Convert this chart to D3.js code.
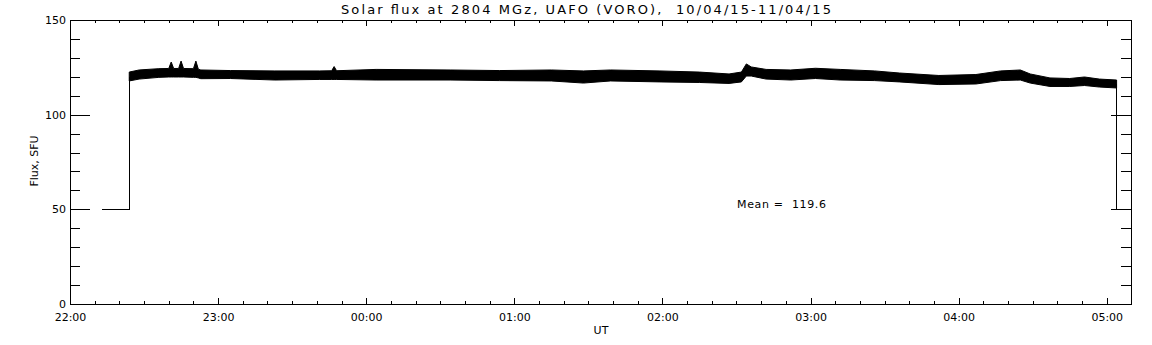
<!DOCTYPE html>
<meta charset="UTF-8">
<script src="https://d3js.org/d3.v7.min.js"></script>
<style>
body { margin: 0; background: #fff; }
text { font-family: "DejaVu Sans", sans-serif; fill: #000; }
</style>
<div id="chart"></div>
<script>

// band of the flux record: sample time (UT), upper and lower edge in SFU
var times = ["22:24","22:28","22:36","22:40","22:41","22:42","22:44","22:45","22:46","22:50","22:51","22:52","22:53",
             "23:05","23:23","23:41","23:46","23:47","23:48","00:04","00:34","00:54","01:15","01:28","01:39","01:59",
             "02:15","02:27","02:32","02:34","02:36","02:42","02:52","03:02","03:12","03:26","03:36","03:52",
             "04:07","04:17","04:25","04:29","04:37","04:45","04:51","04:57","05:04"]
var upper = [122.5,123.6,124.3,124.4,127.8,124.4,124.4,128.3,124.4,124.3,128.3,124.0,123.6,
             123.3,123.1,123.1,123.2,125.4,123.2,123.9,123.6,123.3,123.6,123.1,123.6,123.1,
             122.5,121.5,122.5,126.8,125.2,123.9,123.6,124.5,123.9,123.1,122.0,120.7,
             121.2,123.1,123.6,121.5,119.4,119.1,119.9,118.8,118.3]
var lower = [117.8,118.8,119.7,119.9,119.9,119.9,119.9,119.9,119.9,119.7,119.7,119.4,119.0,
             119.1,118.3,118.6,118.6,118.6,118.6,118.3,118.3,118.0,117.8,116.7,117.8,117.3,
             117.0,116.5,117.3,120.4,120.4,118.8,118.3,119.1,118.3,118.0,117.3,115.9,
             116.2,118.0,118.3,116.7,114.9,114.9,115.4,114.6,114.1]

// level before the record starts and after it stops
var leadTimes = ["22:13","22:24","22:24"]
var leadFlux = [50, 50, 120]
var tailTimes = ["05:04","05:04","05:05"]
var tailFlux = [116, 50, 50]

var yTicks = [0, 50, 100, 150]
var xTickLabels = ["22:00","23:00","00:00","01:00","02:00","03:00","04:00","05:00"]
var meanFlux = 119.6

var width = 1152, height = 345
var pLeft = 70, pRight = 1131, pTop = 20, pBottom = 304

function toDate(s) {
    var p = s.split(":").map(Number)
    var day = p[0] >= 12 ? 10 : 11
    return new Date(Date.UTC(2015, 3, day, p[0], p[1], p[2] || 0))
}

var svg = d3.select("#chart").append("svg")
    .attr("width", width)
    .attr("height", height)

var x = d3.scaleUtc()
    .domain([toDate("22:00"), toDate("05:09:50")])
    .range([pLeft, pRight])
var y = d3.scaleLinear()
    .domain([0, 150])
    .range([pBottom, pTop])

var plotH = pBottom - pTop, plotW = pRight - pLeft
var fmt = d3.utcFormat("%H:%M")

// x axes, ticks point inside like IDL
var hours = xTickLabels.map(function(d){ return toDate(d) })
var tenMin = d3.utcMinute.every(10).range(x.domain()[0], x.domain()[1])

svg.append("g").attr("transform", "translate(0," + pBottom + ")")
    .call(d3.axisBottom(x).tickValues(tenMin).tickSize(-0.01 * plotH).tickSizeOuter(0).tickFormat(""))
svg.append("g").attr("transform", "translate(0," + pBottom + ")")
    .call(d3.axisBottom(x).tickValues(hours).tickSize(-0.02 * plotH).tickSizeOuter(0).tickPadding(9).tickFormat(fmt))
svg.append("g").attr("transform", "translate(0," + pTop + ")")
    .call(d3.axisTop(x).tickValues(tenMin).tickSize(-0.01 * plotH).tickSizeOuter(0).tickFormat(""))
svg.append("g").attr("transform", "translate(0," + pTop + ")")
    .call(d3.axisTop(x).tickValues(hours).tickSize(-0.02 * plotH).tickSizeOuter(0).tickFormat(""))

// y axes
var tens = d3.range(0, 151, 10)
svg.append("g").attr("transform", "translate(" + pLeft + ",0)")
    .call(d3.axisLeft(y).tickValues(tens).tickSize(-0.0095 * plotW).tickSizeOuter(0).tickFormat(""))
svg.append("g").attr("transform", "translate(" + pLeft + ",0)")
    .call(d3.axisLeft(y).tickValues(yTicks).tickSize(-0.019 * plotW).tickSizeOuter(0).tickPadding(4).tickFormat(d3.format("d")))
svg.append("g").attr("transform", "translate(" + pRight + ",0)")
    .call(d3.axisRight(y).tickValues(tens).tickSize(-0.0095 * plotW).tickSizeOuter(0).tickFormat(""))
svg.append("g").attr("transform", "translate(" + pRight + ",0)")
    .call(d3.axisRight(y).tickValues(yTicks).tickSize(-0.019 * plotW).tickSizeOuter(0).tickFormat(""))

svg.selectAll(".domain").remove()
svg.selectAll(".tick line").attr("stroke", "#000").attr("shape-rendering", "crispEdges")
svg.selectAll(".tick text").style("font-size", "11px").attr("fill", "#000")

// box
svg.append("rect")
    .attr("x", pLeft).attr("y", pTop)
    .attr("width", plotW).attr("height", plotH)
    .attr("fill", "none").attr("stroke", "#000")
    .attr("shape-rendering", "crispEdges")

// flux band
var band = times.map(function(t, i){ return {t: toDate(t), hi: upper[i], lo: lower[i]} })
svg.append("path")
    .datum(band)
    .attr("fill", "#000")
    .attr("stroke", "#000")
    .attr("stroke-width", 1)
    .attr("d", d3.area()
        .x(function(d){ return x(d.t) })
        .y0(function(d){ return y(d.lo) })
        .y1(function(d){ return y(d.hi) }))

var line = d3.line()
    .x(function(d){ return x(toDate(d[0])) })
    .y(function(d){ return y(d[1]) })

svg.append("path")
    .datum(leadTimes.map(function(t, i){ return [t, leadFlux[i]] }))
    .attr("fill", "none").attr("stroke", "#000").attr("shape-rendering", "crispEdges")
    .attr("d", line)
svg.append("path")
    .datum(tailTimes.map(function(t, i){ return [t, tailFlux[i]] }))
    .attr("fill", "none").attr("stroke", "#000").attr("shape-rendering", "crispEdges")
    .attr("d", line)

// texts
svg.append("text")
    .attr("x", 341).attr("y", 14)
    .attr("textLength", 490)
    .attr("lengthAdjust", "spacing")
    .style("font-size", "13px")
    .style("white-space", "pre")
    .text("Solar flux at 2804 MGz, UAFO (VORO),  10/04/15-11/04/15")

svg.append("text")
    .attr("x", 601).attr("y", 334)
    .attr("text-anchor", "middle")
    .style("font-size", "11px")
    .text("UT")

svg.append("text")
    .attr("transform", "translate(38,161) rotate(-90)")
    .attr("text-anchor", "middle")
    .style("font-size", "11px")
    .text("Flux, SFU")

svg.append("text")
    .attr("x", 737).attr("y", 208)
    .attr("textLength", 89)
    .attr("lengthAdjust", "spacing")
    .style("font-size", "11px")
    .style("white-space", "pre")
    .text("Mean =  " + meanFlux.toFixed(1))

</script>
